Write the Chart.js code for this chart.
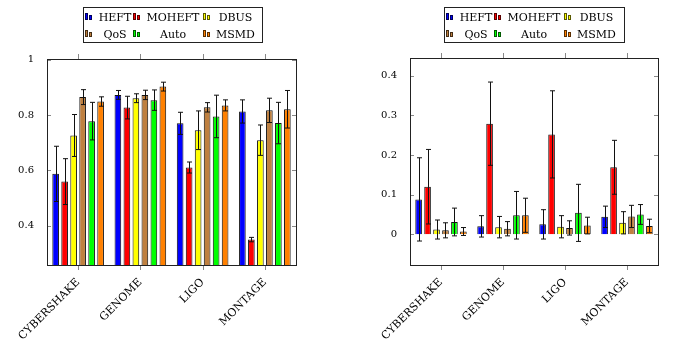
<!DOCTYPE html>
<html>
<head>
<meta charset="utf-8">
<script src="https://cdn.jsdelivr.net/npm/chart.js@4"></script>
<style>
  body { margin: 0; background: #fff; }
  #wrap { position: relative; width: 673px; height: 341px; overflow: hidden; }
  canvas { position: absolute; top: 0; }
  .legend { position: absolute; top: 7px; height: 36px; border: 1px solid #222; box-sizing: border-box;
            font-family: 'DejaVu Serif', serif; font-size: 11px; color: #000; }
  .legend span { position: absolute; }
  .legend .ic { width: 3px; border: 1px solid rgba(0,0,0,0.65); box-sizing: border-box; }
  .legend .lb { transform: translate(-50%, -50%); white-space: nowrap; line-height: 1; }
</style>
</head>
<body>
<div id="wrap">
  <canvas id="left" width="336" height="341" style="left:0"></canvas>
  <canvas id="right" width="337" height="341" style="left:336px"></canvas>
</div>
<script>
// -------- Data --------
const categories = ['CYBERSHAKE', 'GENOME', 'LIGO', 'MONTAGE'];
const seriesNames = ['HEFT', 'MOHEFT', 'DBUS', 'QoS', 'Auto', 'MSMD'];
const seriesColors = ['#0000ff', '#ff0000', '#ffff00', '#bf8040', '#00ff00', '#ff8000'];

// left panel: mean and error per series (one value per category)
const leftMeans = [
  [0.587, 0.873, 0.770, 0.813],
  [0.559, 0.827, 0.610, 0.349],
  [0.726, 0.861, 0.745, 0.709],
  [0.865, 0.873, 0.828, 0.817],
  [0.778, 0.854, 0.795, 0.771],
  [0.849, 0.903, 0.835, 0.821]
];
const leftErrors = [
  [0.100, 0.016, 0.040, 0.042],
  [0.083, 0.041, 0.020, 0.008],
  [0.076, 0.016, 0.070, 0.055],
  [0.027, 0.017, 0.017, 0.044],
  [0.068, 0.037, 0.077, 0.075],
  [0.017, 0.016, 0.020, 0.068]
];
const leftYTicks = [0.4, 0.6, 0.8, 1];

// right panel
const rightMeans = [
  [0.088, 0.020, 0.025, 0.044],
  [0.120, 0.279, 0.252, 0.169],
  [0.012, 0.018, 0.019, 0.029],
  [0.010, 0.014, 0.016, 0.045],
  [0.031, 0.048, 0.054, 0.050],
  [0.007, 0.048, 0.022, 0.021]
];
const rightErrors = [
  [0.105, 0.027, 0.037, 0.027],
  [0.094, 0.105, 0.110, 0.068],
  [0.024, 0.027, 0.028, 0.028],
  [0.019, 0.018, 0.018, 0.028],
  [0.035, 0.060, 0.072, 0.025],
  [0.010, 0.043, 0.021, 0.017]
];
const rightYTicks = [0, 0.1, 0.2, 0.3, 0.4];

// -------- Plugins --------
const errorBars = {
  id: 'errorBars',
  afterDatasetsDraw(chart, args, opts) {
    const ctx = chart.ctx, y = chart.scales.y, a = chart.chartArea;
    ctx.save();
    ctx.beginPath();
    ctx.rect(a.left, a.top, a.right - a.left, a.bottom - a.top);
    ctx.clip();
    ctx.strokeStyle = '#111';
    ctx.lineWidth = 1;
    chart.data.datasets.forEach((ds, i) => {
      chart.getDatasetMeta(i).data.forEach((bar, j) => {
        const v = ds.data[j], e = opts.errors[i][j];
        const x = Math.round(bar.x) + 0.5;
        const y1 = y.getPixelForValue(v + e), y2 = y.getPixelForValue(v - e);
        ctx.beginPath();
        ctx.moveTo(x, y1); ctx.lineTo(x, y2);
        ctx.moveTo(x - 2.5, y1); ctx.lineTo(x + 2.5, y1);
        ctx.moveTo(x - 2.5, y2); ctx.lineTo(x + 2.5, y2);
        ctx.stroke();
      });
    });
    ctx.restore();
  }
};

const frame = {
  id: 'frame',
  afterDraw(chart) {
    const ctx = chart.ctx, a = chart.chartArea;
    const xs = chart.scales.x, ys = chart.scales.y;
    ctx.save();
    ctx.strokeStyle = '#888';
    ctx.lineWidth = 1;
    ctx.beginPath();
    categories.forEach((c, i) => {
      const x = Math.round(xs.getPixelForValue(i)) + 0.5;
      ctx.moveTo(x, a.top - 5); ctx.lineTo(x, a.top);
      ctx.moveTo(x, a.bottom); ctx.lineTo(x, a.bottom + 5);
    });
    ys.ticks.forEach(t => {
      const y = Math.round(ys.getPixelForValue(t.value)) + 0.5;
      ctx.moveTo(a.left, y); ctx.lineTo(a.left + 4, y);
      ctx.moveTo(a.right - 4, y); ctx.lineTo(a.right, y);
    });
    ctx.stroke();
    ctx.strokeStyle = '#222';
    ctx.strokeRect(Math.round(a.left) + 0.5, Math.round(a.top) + 0.5,
                   Math.round(a.right - a.left), Math.round(a.bottom - a.top));
    ctx.restore();
  }
};

// -------- Chart builder --------
function makeChart(id, means, errors, yTicks, yMin, yMax, pad, yWidth) {
  new Chart(document.getElementById(id), {
    type: 'bar',
    data: {
      labels: categories,
      datasets: seriesNames.map((name, i) => ({
        label: name,
        data: means[i],
        backgroundColor: seriesColors[i],
        borderColor: '#111',
        borderWidth: 1,
        categoryPercentage: 0.867,
        barPercentage: 0.74
      }))
    },
    options: {
      responsive: false,
      animation: false,
      layout: { padding: pad },
      plugins: {
        legend: { display: false },
        tooltip: { enabled: false },
        errorBars: { errors: errors }
      },
      scales: {
        x: {
          grid: { display: false },
          border: { display: false },
          ticks: {
            minRotation: 45, maxRotation: 45, padding: 3,
            color: '#000', font: { family: 'DejaVu Serif', size: 11 }
          },
          afterFit: s => { s.height = 341 - 265; s.paddingLeft = 0; s.paddingRight = 0; }
        },
        y: {
          min: yMin, max: yMax,
          grid: { display: false },
          border: { display: false },
          ticks: {
            padding: 5, color: '#000', font: { family: 'DejaVu Serif', size: 10 },
            callback: v => String(+v.toFixed(2))
          },
          afterBuildTicks: s => { s.ticks = yTicks.map(v => ({ value: v })); },
          afterFit: s => { s.width = yWidth; s.paddingTop = 0; s.paddingBottom = 0; }
        }
      }
    },
    plugins: [errorBars, frame]
  });
}

makeChart('left', leftMeans, leftErrors, leftYTicks, 0.257, 1.003,
  { top: 59, right: 40, left: 0, bottom: 0 }, 47);
makeChart('right', rightMeans, rightErrors, rightYTicks, -0.0775, 0.4447,
  { top: 58, right: 15, left: 0, bottom: 0 }, 74);

// -------- Legends --------
function makeLegend(left, width) {
  const box = document.createElement('div');
  box.className = 'legend';
  box.style.left = left + 'px';
  box.style.width = width + 'px';
  const iconX = [1, 49, 119];
  const textX = [31, 89, 151.5];
  const iconBottom = [12, 29];
  const textY = [8.7, 26.3];
  seriesNames.forEach((name, i) => {
    const col = i % 3, row = Math.floor(i / 3);
    [[0, 7], [4, 5]].forEach(([dx, h]) => {
      const s = document.createElement('span');
      s.className = 'ic';
      s.style.left = (iconX[col] + dx) + 'px';
      s.style.top = (iconBottom[row] - h) + 'px';
      s.style.height = h + 'px';
      s.style.background = seriesColors[i];
      box.appendChild(s);
    });
    const t = document.createElement('span');
    t.className = 'lb';
    t.textContent = name;
    t.style.left = textX[col] + 'px';
    t.style.top = textY[row] + 'px';
    box.appendChild(t);
  });
  document.getElementById('wrap').appendChild(box);
}
makeLegend(83, 180);
makeLegend(444, 181);
</script>
</body>
</html>
